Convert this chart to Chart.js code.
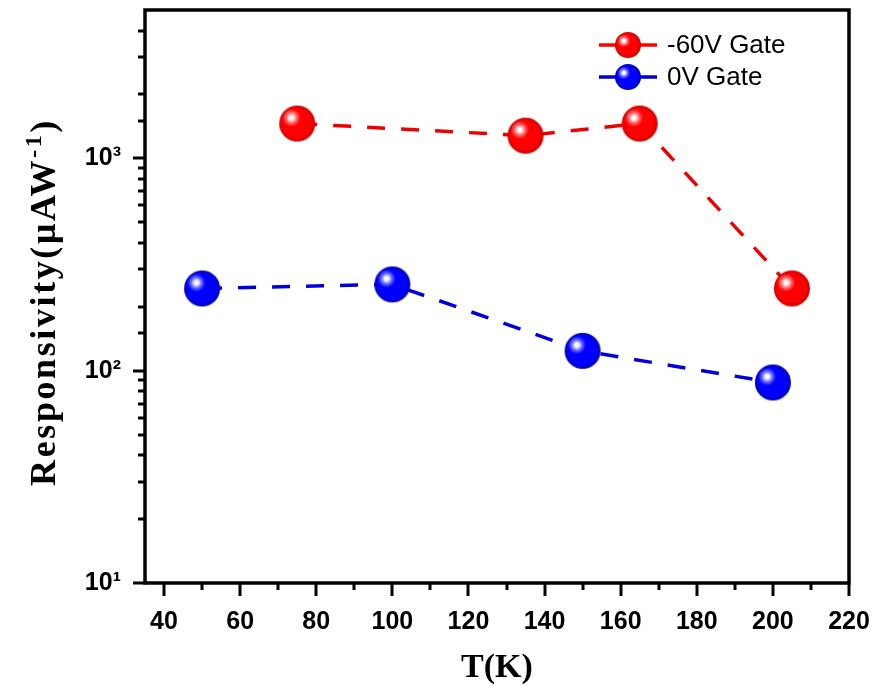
<!DOCTYPE html>
<html><head><meta charset="utf-8">
<script src="https://cdn.jsdelivr.net/npm/chart.js@4.4.0/dist/chart.umd.min.js"></script>
<style>html,body{margin:0;padding:0;background:#fff;}#wrap{width:876px;height:686px;}</style>
</head><body><div id="wrap"><canvas id="c" width="876" height="686"></canvas></div>
<script>
// ---- data ----
const seriesLabels = ['-60V Gate', '0V Gate'];
const tempNeg60 = [75, 135, 165, 205];
const respNeg60 = [1460, 1280, 1460, 244];
const temp0 = [50, 100, 150, 200];
const resp0 = [244, 255, 124, 88];
const xTickLabels = [40, 60, 80, 100, 120, 140, 160, 180, 200, 220];
const yTickLabels = [10, 100, 1000];
const xTitle = 'T(K)';
const yTitleMain = 'Responsivity(\u03bcAW';
const yTitleSup = '-1';
const yTitleEnd = ')';

// ---- marker images ----
function sphere(r, base, dark) {
  const s = Math.ceil(r * 2 + 2);
  const c = document.createElement('canvas');
  c.width = s; c.height = s;
  const g = c.getContext('2d');
  const cx = s / 2, cy = s / 2;
  const gr = g.createRadialGradient(cx - r * 0.15, cy - r * 0.15, 0, cx, cy, r);
  gr.addColorStop(0, base); gr.addColorStop(0.8, base); gr.addColorStop(1, dark);
  g.fillStyle = gr;
  g.beginPath(); g.arc(cx, cy, r, 0, Math.PI * 2); g.fill();
  const hx = cx - r * 0.32, hy = cy - r * 0.32;
  const hl = g.createRadialGradient(hx, hy, 0, hx, hy, r * 0.5);
  hl.addColorStop(0, 'rgba(255,255,255,1)');
  hl.addColorStop(0.25, 'rgba(255,255,255,0.95)');
  hl.addColorStop(0.55, 'rgba(255,255,255,0.45)');
  hl.addColorStop(1, 'rgba(255,255,255,0)');
  g.fillStyle = hl;
  g.beginPath(); g.arc(cx, cy, r, 0, Math.PI * 2); g.fill();
  return c;
}
const redBall = sphere(18, '#ff0000', '#c80000');
const blueBall = sphere(18, '#0000ff', '#0000a8');
const redBallS = sphere(13, '#ff0000', '#c80000');
const blueBallS = sphere(13, '#0000ff', '#0000a8');

const supMap = {'0':'\u2070','1':'\u00b9','2':'\u00b2','3':'\u00b3','4':'\u2074'};

function noPad(s) { s.paddingTop = 0; s.paddingBottom = 0; s.paddingLeft = 0; s.paddingRight = 0; }

const axesPlugin = {
  id: 'axesPlugin',
  afterDraw(chart) {
    const ctx = chart.ctx, a = chart.chartArea;
    const xs = chart.scales.x, ys = chart.scales.y;
    ctx.save();
    ctx.strokeStyle = '#000';
    ctx.lineWidth = 3.5;
    ctx.lineCap = 'butt';
    ctx.strokeRect(a.left, a.top, a.right - a.left, a.bottom - a.top);
    ctx.lineWidth = 3;
    // x ticks
    xs.ticks.forEach(t => {
      if (t.value % 10 !== 0) return;
      const major = xTickLabels.includes(t.value);
      const px = Math.round(xs.getPixelForValue(t.value));
      ctx.beginPath();
      ctx.moveTo(px, a.bottom);
      ctx.lineTo(px, a.bottom + (major ? 13 : 7));
      ctx.stroke();
    });
    // y ticks
    ys.ticks.forEach(t => {
      const major = yTickLabels.includes(t.value);
      const py = Math.round(ys.getPixelForValue(t.value));
      if (py < a.top + 1) return;
      ctx.beginPath();
      ctx.moveTo(a.left, py);
      ctx.lineTo(a.left - (major ? 12 : 7), py);
      ctx.stroke();
    });
    // legend
    const items = [
      {label: chart.data.datasets[0].label, color: '#ff0000', img: redBallS},
      {label: chart.data.datasets[1].label, color: '#0000cc', img: blueBallS}
    ];
    const lx0 = a.right - 250, lx1 = a.right - 192, mx = a.right - 221, tx = a.right - 182;
    items.forEach((it, i) => {
      const y = a.top + 35 + i * 32;
      ctx.strokeStyle = it.color; ctx.lineWidth = 3.5;
      ctx.beginPath(); ctx.moveTo(lx0, y); ctx.lineTo(lx1, y); ctx.stroke();
      ctx.drawImage(it.img, mx - it.img.width / 2, y - it.img.height / 2);
      ctx.fillStyle = '#000';
      ctx.font = '26px "Liberation Sans", Arial, sans-serif';
      ctx.textBaseline = 'middle'; ctx.textAlign = 'left';
      ctx.fillText(it.label, tx, y + 1);
    });
    // titles
    ctx.fillStyle = '#000';
    ctx.font = 'bold 34px "Liberation Serif", serif';
    ctx.textAlign = 'center'; ctx.textBaseline = 'alphabetic';
    ctx.fillText(xTitle, (a.left + a.right) / 2, 677);
    // y title rotated
    ctx.save();
    ctx.translate(55, 302);
    ctx.rotate(-Math.PI / 2);
    ctx.letterSpacing = '2.6px';
    const fMain = 'bold 36px "Liberation Serif", serif';
    const fSup = 'bold 24px "Liberation Serif", serif';
    ctx.font = fMain; const w1 = ctx.measureText(yTitleMain).width;
    const w3 = ctx.measureText(yTitleEnd).width;
    ctx.font = fSup; const w2 = ctx.measureText(yTitleSup).width;
    let x = -(w1 + w2 + w3) / 2;
    ctx.textAlign = 'left';
    ctx.font = fMain; ctx.fillText(yTitleMain, x, 0); x += w1;
    ctx.font = fSup; ctx.fillText(yTitleSup, x, -14); x += w2;
    ctx.font = fMain; ctx.fillText(yTitleEnd, x, 0);
    ctx.restore();
    ctx.restore();
  }
};

new Chart(document.getElementById('c'), {
  type: 'line',
  data: {
    datasets: [
      {
        label: seriesLabels[0],
        data: tempNeg60.map((t, i) => ({x: t, y: respNeg60[i]})),
        borderColor: '#ee0000', borderWidth: 3.5, borderDash: [18, 16], borderDashOffset: -2,
        pointStyle: redBall, pointRadius: 18, pointHoverRadius: 18,
        fill: false, tension: 0
      },
      {
        label: seriesLabels[1],
        data: temp0.map((t, i) => ({x: t, y: resp0[i]})),
        borderColor: '#0000dd', borderWidth: 3.5, borderDash: [18, 16], borderDashOffset: -2,
        pointStyle: blueBall, pointRadius: 18, pointHoverRadius: 18,
        fill: false, tension: 0
      }
    ]
  },
  options: {
    responsive: false, animation: false, devicePixelRatio: 1,
    layout: {autoPadding: false, padding: {top: 10, right: 27, left: 0, bottom: 0}},
    plugins: {legend: {display: false}, tooltip: {enabled: false}},
    scales: {
      x: {
        type: 'linear', min: 35, max: 220,
        grid: {display: false}, border: {display: false},
        afterFit(s) { s.height = 103; noPad(s); },
        ticks: {
          stepSize: 10, includeBounds: false, autoSkip: false, maxRotation: 0, padding: 16,
          color: '#000', font: {family: '"Liberation Sans", Arial, sans-serif', size: 25, weight: 'bold'},
          callback: v => xTickLabels.includes(v) ? String(v) : ''
        }
      },
      y: {
        type: 'logarithmic', min: 10, max: 5000,
        grid: {display: false}, border: {display: false},
        afterFit(s) { s.width = 145; noPad(s); },
        ticks: {
          autoSkip: false, padding: 16,
          color: '#000', font: {family: '"Liberation Sans", Arial, sans-serif', size: 25, weight: 'bold'},
          callback: v => {
            if (!yTickLabels.includes(v)) return '';
            const e = String(Math.round(Math.log10(v)));
            return '10' + e.split('').map(d => supMap[d]).join('');
          }
        }
      }
    }
  },
  plugins: [axesPlugin]
});
</script></body></html>
